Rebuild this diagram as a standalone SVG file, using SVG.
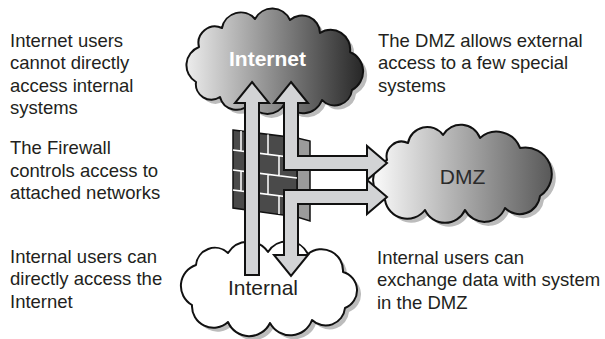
<svg xmlns="http://www.w3.org/2000/svg" width="605" height="339" viewBox="0 0 605 339">
  <defs>
    <linearGradient id="gInternet" gradientUnits="userSpaceOnUse" x1="184" y1="0" x2="364" y2="0">
      <stop offset="0" stop-color="#efefef"/>
      <stop offset="1" stop-color="#262626"/>
    </linearGradient>
    <linearGradient id="gDmz" gradientUnits="userSpaceOnUse" x1="373" y1="0" x2="552" y2="0">
      <stop offset="0" stop-color="#fbfbfb"/>
      <stop offset="1" stop-color="#585858"/>
    </linearGradient>
  </defs>
  <style>
    .note { font-family: "Liberation Sans", Arial, sans-serif; font-size: 18.5px; fill: #231f20; }
    .label { font-family: "Liberation Sans", Arial, sans-serif; font-size: 21px; text-anchor: middle; }
    .cloud { stroke: #111; stroke-width: 2; stroke-linejoin: round; }
    .shadow { fill: #bcbcbc; }
    .arrow { fill: #d2d3d5; stroke: #111; stroke-width: 2; stroke-linejoin: miter; }
    .mortar { stroke: #ffffff; stroke-width: 1.5; fill: none; }
  </style>

  <g id="notes">
    <text class="note" x="10" y="46.5">Internet users</text>
    <text class="note" x="10" y="69">cannot directly</text>
    <text class="note" x="10" y="91.5">access internal</text>
    <text class="note" x="10" y="114">systems</text>
    <text class="note" x="10" y="154">The Firewall</text>
    <text class="note" x="10" y="176.5">controls access to</text>
    <text class="note" x="10" y="199">attached networks</text>
    <text class="note" x="10" y="262.5">Internal users can</text>
    <text class="note" x="10" y="285">directly access the</text>
    <text class="note" x="10" y="307.5">Internet</text>
    <text class="note" x="378" y="46.5">The DMZ allows external</text>
    <text class="note" x="378" y="69">access to a few special</text>
    <text class="note" x="378" y="91.5">systems</text>
    <text class="note" x="377" y="263.5">Internal users can</text>
    <text class="note" x="377" y="286">exchange data with system</text>
    <text class="note" x="377" y="308.5">in the DMZ</text>
  </g>

  <g id="node-internet">
    <path class="shadow" transform="translate(4,4)" d="M196,82 A19.5,19.5 0 0 1 199,47 A16.5,16.5 0 0 1 222,28 A19,19 0 0 1 255,19 A19.5,19.5 0 0 1 290,20 A18,18 0 0 1 320,33 A19.5,19.5 0 0 1 350,52 A21,21 0 0 1 352,90 A17.5,17.5 0 0 1 322,100 A20.5,20.5 0 0 1 285,103 A19.5,19.5 0 0 1 250,103 A17,17 0 0 1 220,97 A15.5,15.5 0 0 1 196,82 Z"/>
    <path class="cloud" fill="url(#gInternet)" d="M196,82 A19.5,19.5 0 0 1 199,47 A16.5,16.5 0 0 1 222,28 A19,19 0 0 1 255,19 A19.5,19.5 0 0 1 290,20 A18,18 0 0 1 320,33 A19.5,19.5 0 0 1 350,52 A21,21 0 0 1 352,90 A17.5,17.5 0 0 1 322,100 A20.5,20.5 0 0 1 285,103 A19.5,19.5 0 0 1 250,103 A17,17 0 0 1 220,97 A15.5,15.5 0 0 1 196,82 Z"/>
    <text class="label" x="267.5" y="66" fill="#ffffff" font-weight="bold">Internet</text>
  </g>

  <g id="node-dmz">
    <path class="shadow" transform="translate(4,4)" d="M385,200 A22,22 0 0 1 387,160 A15,15 0 0 1 408,143 A19.5,19.5 0 0 1 443,135 A20.5,20.5 0 0 1 480,138 A25,25 0 0 1 520,148 A26.5,26.5 0 0 1 540,196 A20.5,20.5 0 0 1 505,208 A22,22 0 0 1 465,210 A22,22 0 0 1 425,210 A22.5,22.5 0 0 1 385,200 Z"/>
    <path class="cloud" fill="url(#gDmz)" d="M385,200 A22,22 0 0 1 387,160 A15,15 0 0 1 408,143 A19.5,19.5 0 0 1 443,135 A20.5,20.5 0 0 1 480,138 A25,25 0 0 1 520,148 A26.5,26.5 0 0 1 540,196 A20.5,20.5 0 0 1 505,208 A22,22 0 0 1 465,210 A22,22 0 0 1 425,210 A22.5,22.5 0 0 1 385,200 Z"/>
    <text class="label" x="462.5" y="184" fill="#2b2b2b">DMZ</text>
  </g>

  <g id="node-internal">
    <path class="shadow" transform="translate(4,4)" d="M192,305 A22,22 0 0 1 196,265 A19,19 0 0 1 228,253 A24,24 0 0 1 268,252 A23,23 0 0 1 308,254 A21.5,21.5 0 0 1 343,272 A19,19 0 0 1 345,308 A19.5,19.5 0 0 1 312,320 A23,23 0 0 1 270,323 A23,23 0 0 1 228,322 A21.5,21.5 0 0 1 192,305 Z"/>
    <path class="cloud" fill="#ffffff" d="M192,305 A22,22 0 0 1 196,265 A19,19 0 0 1 228,253 A24,24 0 0 1 268,252 A23,23 0 0 1 308,254 A21.5,21.5 0 0 1 343,272 A19,19 0 0 1 345,308 A19.5,19.5 0 0 1 312,320 A23,23 0 0 1 270,323 A23,23 0 0 1 228,322 A21.5,21.5 0 0 1 192,305 Z"/>
    <text class="label" x="263" y="295" fill="#231f20">Internal</text>
  </g>

  <g id="node-firewall">
    <polygon points="297,138 310,141 310,221 297,217" fill="#9b9b9b" stroke="#111" stroke-width="1.5"/>
    <polygon points="233,130 297,138 297,217 233,208" fill="#4a4a4a" stroke="#111" stroke-width="1.5"/>
    <path class="mortar" d="M233,150 L297,158 M233,170 L297,178 M233,190 L297,198 M241,131 L241,151 M268,134.4 L268,154.4 M255,152.7 L255,172.7 M279,155.7 L279,175.7 M241,171 L241,191 M268,174.4 L268,194.4 M255,192.7 L255,211 M279,195.7 L279,214"/>
  </g>

  <g id="connectors">
    <polygon class="arrow" points="252,82 269,103 259,103 259,275 245,275 245,103 235,103"/>
    <polygon class="arrow" points="291,82 308,103 298,103 298,156 367,156 367,146 387,163 367,180 367,170 284,170 284,103 274,103"/>
    <polygon class="arrow" points="284,190 367,190 367,180 387,197 367,214 367,204 298,204 298,255 308,255 291,276 274,255 284,255"/>
  </g>
</svg>
